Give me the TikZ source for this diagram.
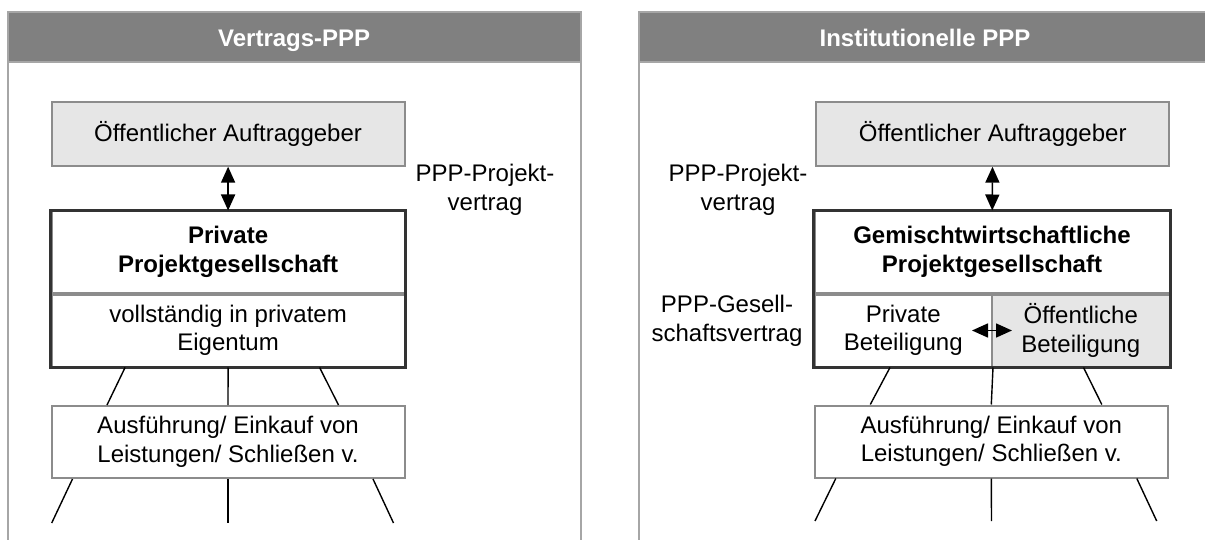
\documentclass[tikz,border=0pt]{standalone}
\usepackage{fontspec}
\setmainfont{Liberation Sans}
\usepackage{xcolor}
\usepackage{tikz}
\usetikzlibrary{positioning}
\usetikzlibrary{arrows.meta}
\definecolor{hdrgray}{HTML}{808080}
\definecolor{boxgray}{HTML}{E6E6E6}
\definecolor{linegray}{HTML}{8C8C8C}
\definecolor{framegray}{HTML}{A6A6A6}
\tikzset{edge/.style = {<->,> = {Triangle[length=16pt,width=14pt]},line width=1.6pt}}

\begin{document}
\begin{tikzpicture}[x=1pt,y=-1pt,every node/.style={font=\fontsize{24}{28.5}\selectfont},
  main node/.style={rectangle,draw=linegray,line width=2pt,minimum width=353pt,align=center,inner sep=0pt},
  half node/.style={main node,minimum width=177.5pt,minimum height=72pt},
  head node/.style={font=\fontsize{24}{28.5}\selectfont\bfseries,text=white,anchor=base},
  label node/.style={align=center},
  twig/.style={line width=1.4pt}]
                \useasboundingbox (0,0) rectangle (1205,540);
                \clip (0,0) rectangle (1205,540);

                % panels
                \draw[framegray,line width=2pt,fill=hdrgray] (7.7,12.3) rectangle (580.7,62);
                \draw[framegray,line width=2pt] (7.7,62) -- (7.7,560) (580.7,62) -- (580.7,560);
                \draw[framegray,line width=2pt,fill=hdrgray] (639,12.3) rectangle (1211,62);
                \draw[framegray,line width=2pt] (639,62) -- (639,560) (1211,62) -- (1211,560);
                \node[head node] (hdrL) at (294.2,46.7) {Vertrags-PPP};
                \node[head node] (hdrR) at (925,46.7) {Institutionelle PPP};

                % Vertrags-PPP
                \node[main node,fill=boxgray,minimum height=64pt] (oeffL) at (228.1,133.7) {Öffentlicher Auftraggeber};
                \node[main node,minimum height=81pt,font=\fontsize{24}{28.5}\selectfont\bfseries] (privL) at (228.1,252) {Private\\Projektgesellschaft};
                \node[main node,minimum height=72pt,below=0pt of privL] (eigL) {vollständig in privatem\\Eigentum};
                \draw[line width=3pt,black!80] (privL.north west) rectangle (eigL.south east);
                \node[main node,minimum height=72pt] (ausL) at (228,442) {Ausführung/ Einkauf von\\Leistungen/ Schließen v.};
                \node[label node] (pvL) at (485,190) {PPP-Projekt-\\vertrag};
                \coordinate (endL1) at (51.7,523);
                \coordinate (endL2) at (228,523);
                \coordinate (endL3) at (393.5,523);

                \path[edge] (oeffL) edge (privL);
                \draw[twig] ([xshift=-103pt]eigL.south) -- ([xshift=-121pt]ausL.north);
                \draw[twig] (eigL.south) -- (ausL.north);
                \draw[twig] ([xshift=91.5pt]eigL.south) -- ([xshift=110.5pt]ausL.north);
                \draw[twig] ([xshift=-155.5pt]ausL.south) -- (endL1);
                \draw[twig] (ausL.south) -- (endL2);
                \draw[twig] ([xshift=145pt]ausL.south) -- (endL3);

                % Institutionelle PPP
                \node[main node,fill=boxgray,minimum height=64pt] (oeffR) at (992.7,133.7) {Öffentlicher Auftraggeber};
                \node[main node,minimum width=355pt,minimum height=81pt,font=\fontsize{24}{28.5}\selectfont\bfseries] (gemR) at (992,252) {Gemischtwirtschaftliche\\Projektgesellschaft};
                \node[half node,anchor=north west] (priR) at (gemR.south west) {Private\\Beteiligung};
                \node[half node,fill=boxgray,anchor=north east] (oefbR) at (gemR.south east) {Öffentliche\\Beteiligung};
                \draw[line width=3pt,black!80] (gemR.north west) rectangle (oefbR.south east);
                \node[main node,minimum height=72pt] (ausR) at (991.3,441.5) {Ausführung/ Einkauf von\\Leistungen/ Schließen v.};
                \node[label node] (pvR) at (738,190) {PPP-Projekt-\\vertrag};
                \node[label node] (gvR) at (727,321) {PPP-Gesell-\\schaftsvertrag};
                \coordinate (endR1) at (815,521);
                \coordinate (endR2) at (991.5,521);
                \coordinate (endR3) at (1156.7,521);

                \path[edge] (oeffR) edge (gemR);
                \draw[edge] ([xshift=-21pt]priR.east) -- ([xshift=21pt]oefbR.west);
                \draw[twig] ([xshift=-103pt]priR.south east) -- ([xshift=-121pt]ausR.north);
                \draw[twig] (priR.south east) -- (ausR.north);
                \draw[twig] ([xshift=90.5pt]priR.south east) -- ([xshift=110.5pt]ausR.north);
                \draw[twig] ([xshift=-155.5pt]ausR.south) -- (endR1);
                \draw[twig] (ausR.south) -- (endR2);
                \draw[twig] ([xshift=145.5pt]ausR.south) -- (endR3);
            \end{tikzpicture}
\end{document}
